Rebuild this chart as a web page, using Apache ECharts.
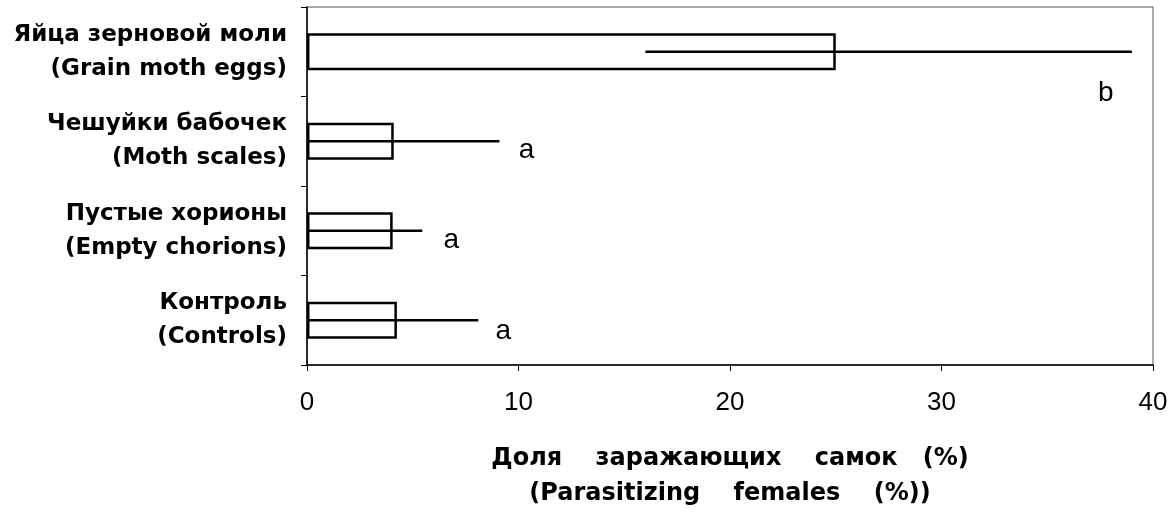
<!DOCTYPE html>
<html><head><meta charset="utf-8">
<script src="https://cdn.jsdelivr.net/npm/echarts@6/dist/echarts.min.js"></script>
<style>html,body{margin:0;padding:0;background:#fff}#c{width:1175px;height:512px}</style>
</head><body><div id="c"></div>
<script>
const categories = [
  'Яйца зерновой моли\n(Grain moth eggs)',
  'Чешуйки бабочек\n(Moth scales)',
  'Пустые хорионы\n(Empty chorions)',
  'Контроль\n(Controls)'
];
const means = [25.0, 4.1, 4.05, 4.25];
const errLow = [16.0, 0, 0, 0];
const errHigh = [39.0, 9.1, 5.45, 8.1];
const letters = ['b', 'a', 'a', 'a'];
const xTicks = [0, 10, 20, 30, 40];
// label placement offsets (pixels) relative to upper error end
const letterDx = [-26, 27, 29, 25];
const letterDy = [42, 9, 10, 11];

const boldFont = 'DejaVu Sans, Liberation Sans, Arial, sans-serif';
const regFont = 'Liberation Sans, Arial, sans-serif';

const chart = echarts.init(document.getElementById('c'));
chart.setOption({
  animation: false,
  backgroundColor: '#fff',
  grid: {left: 307, right: 22, top: 7, bottom: 147, show: true, borderColor: '#555', borderWidth: 1,
         containLabel: false, outerBoundsMode: 'none'},
  xAxis: {
    type: 'value', min: xTicks[0], max: xTicks[xTicks.length - 1], interval: 10,
    splitLine: {show: false},
    axisLine: {show: true, lineStyle: {color: '#000', width: 1.5}},
    axisTick: {show: true, inside: false, length: 6, lineStyle: {color: '#000'}},
    axisLabel: {color: '#000', fontSize: 26, fontFamily: regFont, margin: 25},
    name: 'Доля    заражающих    самок   (%)\n(Parasitizing    females    (%))',
    nameLocation: 'middle', nameGap: 76,
    nameTextStyle: {color: '#000', fontSize: 24, fontWeight: 'bold', fontFamily: boldFont, lineHeight: 35}
  },
  yAxis: {
    type: 'category', data: categories, inverse: true,
    axisLine: {show: true, lineStyle: {color: '#000', width: 1.5}},
    axisTick: {show: true, length: 6, lineStyle: {color: '#000'}},
    axisLabel: {color: '#000', fontSize: 23, fontWeight: 'bold', fontFamily: boldFont, margin: 20, lineHeight: 34, align: 'right'}
  },
  series: [
    {
      type: 'bar', data: means, barWidth: 37,
      itemStyle: {color: '#fff', borderColor: '#000', borderWidth: 2.5}
    },
    {
      type: 'custom',
      data: categories.map((c, i) => [errLow[i], errHigh[i], i]),
      encode: {x: [0, 1], y: 2},
      renderItem: function (params, api) {
        const i = api.value(2);
        const p1 = api.coord([api.value(0), i]);
        const p2 = api.coord([api.value(1), i]);
        return {
          type: 'group',
          children: [
            {type: 'line', shape: {x1: p1[0], y1: p1[1], x2: p2[0], y2: p2[1]}, style: {stroke: '#000', lineWidth: 2.5}},
            {type: 'text', style: {text: letters[i], x: p2[0] + letterDx[i], y: p2[1] + letterDy[i],
              align: 'center', verticalAlign: 'middle', fill: '#000', fontSize: 28,
              fontFamily: regFont}}
          ]
        };
      },
      z: 5
    }
  ]
});
</script></body></html>
